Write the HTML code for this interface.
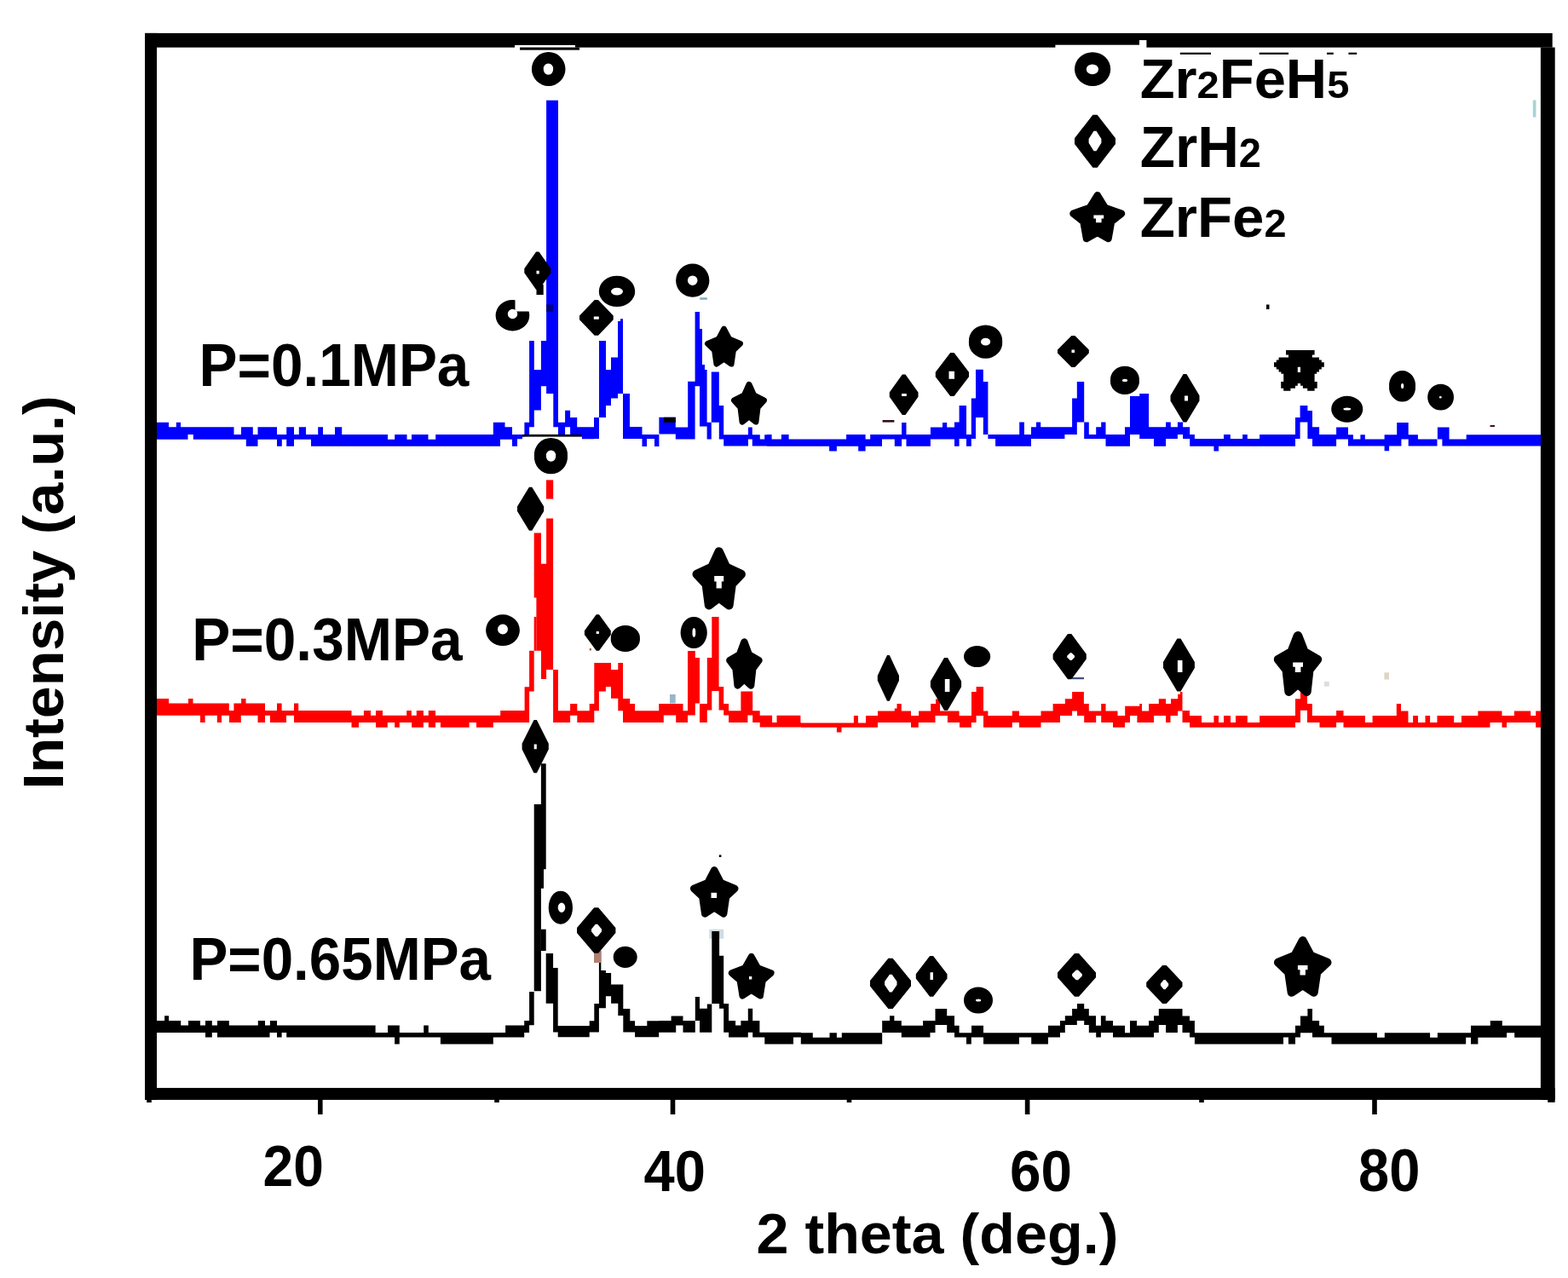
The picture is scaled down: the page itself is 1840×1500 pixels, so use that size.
<!DOCTYPE html>
<html><head><meta charset="utf-8"><title>XRD patterns</title>
<style>
html,body{margin:0;padding:0;background:#fff;}
svg{display:block;}
text{font-family:'Liberation Sans',Arial,sans-serif;font-weight:bold;fill:#000;}
</style></head>
<body>
<svg width="1840" height="1500" viewBox="0 0 1840 1500">
<rect x="170.00" y="38.90" width="1651.70" height="16.80" fill="#000"/>
<rect x="604.00" y="53.00" width="71.00" height="3.50" fill="#fff"/>
<rect x="1238.40" y="52.70" width="107.00" height="3.80" fill="#fff"/>
<rect x="1337.00" y="47.10" width="8.40" height="5.90" fill="#fff"/>
<rect x="610.00" y="55.60" width="70.00" height="3.10" fill="#000"/>
<rect x="170.00" y="38.90" width="14.00" height="1252.00" fill="#000"/>
<rect x="1807.90" y="55.60" width="16.80" height="1235.30" fill="#000"/>
<rect x="1816.20" y="1290.00" width="8.50" height="3.80" fill="#000"/>
<rect x="170.00" y="1276.90" width="1654.70" height="14.00" fill="#000"/>
<rect x="373.00" y="1290.00" width="5.60" height="18.00" fill="#000"/>
<rect x="786.70" y="1290.00" width="5.60" height="18.00" fill="#000"/>
<rect x="1202.80" y="1290.00" width="5.60" height="18.00" fill="#000"/>
<rect x="1610.20" y="1290.00" width="5.60" height="18.00" fill="#000"/>
<rect x="172.20" y="1290.00" width="5.60" height="4.00" fill="#000"/>
<rect x="580.20" y="1290.00" width="5.60" height="4.00" fill="#000"/>
<rect x="993.70" y="1290.00" width="5.60" height="4.00" fill="#000"/>
<rect x="1407.20" y="1290.00" width="5.60" height="4.00" fill="#000"/>
<path d="M184.0,495.8 L198.0,495.8 L198.0,501.2 L206.8,501.2 L206.8,495.8 L212.0,495.8 L212.0,501.2 L220.5,501.2 L226.8,501.2 L274.5,501.2 L274.5,510.0 L283.0,510.0 L283.0,501.2 L288.8,501.2 L296.8,501.2 L296.8,510.0 L302.5,510.0 L302.5,501.2 L325.0,501.2 L325.0,510.0 L330.8,510.0 L336.2,510.0 L336.2,501.2 L345.0,501.2 L345.0,510.0 L350.8,510.0 L350.8,501.2 L359.0,501.2 L359.0,510.0 L365.0,510.0 L373.2,510.0 L373.2,501.2 L379.0,501.2 L379.0,510.0 L393.0,510.0 L393.0,501.2 L401.2,501.2 L401.2,510.0 L455.0,510.0 L455.0,515.8 L463.2,515.8 L463.2,510.0 L477.5,510.0 L477.5,515.8 L483.0,515.8 L483.0,510.0 L502.5,510.0 L502.5,515.8 L511.2,515.8 L511.2,510.0 L578.8,510.0 L578.8,495.8 L587.0,495.8 L592.5,495.8 L592.5,501.2 L601.0,501.2 L601.0,509.9 L607.0,509.9 L613.0,509.9 L615.4,509.9 L615.4,495.8 L621.1,495.8 L621.1,400.0 L626.8,400.0 L626.8,434.0 L634.9,434.0 L634.9,400.0 L641.1,400.0 L641.1,117.7 L649.3,117.7 L655.0,117.7 L655.0,495.8 L663.1,495.8 L663.1,481.7 L669.1,481.7 L669.1,490.1 L677.2,490.1 L677.2,501.2 L682.9,501.2 L697.0,501.2 L697.0,490.0 L703.0,490.0 L703.0,400.0 L711.0,400.0 L711.0,434.0 L717.0,434.0 L717.0,419.5 L725.0,419.5 L725.0,377.0 L728.0,377.0 L728.0,374.2 L731.0,374.2 L731.0,462.0 L739.0,462.0 L739.0,501.0 L753.5,501.0 L753.5,510.0 L759.0,510.0 L768.0,510.0 L773.4,510.0 L773.4,489.8 L792.8,489.8 L792.8,501.4 L807.2,501.4 L807.2,447.8 L815.6,447.8 L815.6,366.0 L821.0,366.0 L821.0,386.0 L824.0,386.0 L824.0,428.0 L827.0,428.0 L827.0,434.0 L829.6,434.0 L829.6,495.8 L834.8,495.8 L834.8,436.4 L843.8,436.4 L843.8,476.0 L849.2,476.0 L849.2,510.2 L878.0,510.2 L878.0,501.4 L882.8,501.4 L882.8,510.2 L891.8,510.2 L891.8,515.4 L897.2,515.4 L897.2,510.2 L900.0,510.2 L900.0,510.0 L905.6,510.0 L905.6,515.6 L916.9,515.6 L916.9,510.0 L925.6,510.0 L925.6,515.6 L973.1,515.6 L981.9,515.6 L993.1,515.6 L993.1,510.0 L1007.2,510.0 L1015.6,510.0 L1015.6,515.6 L1021.2,515.6 L1021.2,510.0 L1035.0,510.0 L1049.8,510.0 L1058.1,510.0 L1058.1,495.9 L1063.5,495.9 L1063.5,510.0 L1091.9,510.0 L1091.9,501.5 L1106.0,501.5 L1106.0,495.9 L1111.2,495.9 L1111.2,501.5 L1120.0,501.5 L1120.0,495.6 L1125.6,495.6 L1125.6,476.0 L1134.0,476.0 L1134.0,510.0 L1139.8,510.0 L1139.8,467.5 L1145.0,467.5 L1145.0,433.8 L1153.8,433.8 L1153.8,448.0 L1159.4,448.0 L1159.4,510.0 L1168.1,510.0 L1196.2,510.0 L1196.2,495.6 L1201.9,495.6 L1201.9,510.0 L1210.0,510.0 L1210.0,501.2 L1216.0,501.2 L1216.0,495.6 L1221.2,495.6 L1221.2,501.2 L1249.4,501.2 L1258.1,501.2 L1258.1,467.5 L1263.8,467.5 L1263.8,448.0 L1272.2,448.0 L1272.2,495.6 L1277.8,495.6 L1277.8,510.0 L1286.2,510.0 L1286.2,501.2 L1292.2,501.2 L1292.2,495.6 L1297.5,495.6 L1297.5,510.0 L1320.0,510.0 L1320.0,501.2 L1326.0,501.2 L1326.0,465.0 L1337.2,465.0 L1337.2,461.9 L1348.1,461.9 L1348.1,501.2 L1354.0,501.2 L1368.1,501.2 L1368.1,495.6 L1373.8,495.6 L1373.8,501.2 L1381.9,501.2 L1381.9,495.6 L1388.1,495.6 L1388.1,501.2 L1396.2,501.2 L1396.2,510.0 L1401.9,510.0 L1401.9,515.0 L1424.4,515.0 L1430.0,515.0 L1436.0,515.0 L1436.0,510.0 L1443.8,510.0 L1443.8,515.0 L1458.1,515.0 L1458.1,510.0 L1463.8,510.0 L1463.8,515.0 L1478.1,515.0 L1478.1,510.0 L1520.0,510.0 L1520.0,490.0 L1525.6,490.0 L1525.6,476.0 L1534.4,476.0 L1534.4,481.9 L1540.0,481.9 L1540.0,501.2 L1548.1,501.2 L1548.1,510.0 L1568.1,510.0 L1568.1,501.4 L1582.0,501.4 L1582.0,510.2 L1587.9,510.2 L1587.9,515.4 L1596.4,515.4 L1596.4,510.2 L1601.8,510.2 L1601.8,515.4 L1624.6,515.4 L1624.6,510.2 L1630.1,510.2 L1639.2,510.2 L1639.2,496.0 L1644.4,496.0 L1652.7,496.0 L1652.7,510.2 L1663.9,510.2 L1663.9,515.4 L1686.5,515.4 L1686.9,515.4 L1686.9,501.4 L1692.4,501.4 L1700.6,501.4 L1700.6,515.4 L1720.7,515.4 L1720.7,510.2 L1808.0,510.2 L1808.0,523.4 L1720.7,523.4 L1700.6,523.4 L1692.4,523.4 L1692.4,515.4 L1686.9,515.4 L1686.5,515.4 L1686.5,523.4 L1663.9,523.4 L1652.7,523.4 L1652.7,515.4 L1644.4,515.4 L1644.4,523.4 L1639.2,523.4 L1630.1,523.4 L1630.1,529.3 L1624.6,529.3 L1624.6,523.4 L1601.8,523.4 L1596.4,523.4 L1587.9,523.4 L1582.0,523.4 L1582.0,515.4 L1568.1,515.4 L1568.1,523.8 L1548.1,523.8 L1540.0,523.8 L1540.0,515.0 L1534.4,515.0 L1534.4,495.6 L1525.6,495.6 L1525.6,515.0 L1520.0,515.0 L1520.0,523.8 L1478.1,523.8 L1463.8,523.8 L1458.1,523.8 L1443.8,523.8 L1436.0,523.8 L1430.0,523.8 L1430.0,529.4 L1424.4,529.4 L1424.4,523.8 L1401.9,523.8 L1396.2,523.8 L1396.2,515.0 L1388.1,515.0 L1388.1,510.0 L1381.9,510.0 L1381.9,515.0 L1373.8,515.0 L1368.1,515.0 L1368.1,523.8 L1354.0,523.8 L1354.0,515.0 L1348.1,515.0 L1337.2,515.0 L1337.2,510.0 L1326.0,510.0 L1326.0,523.8 L1320.0,523.8 L1297.5,523.8 L1297.5,515.0 L1292.2,515.0 L1286.2,515.0 L1277.8,515.0 L1272.2,515.0 L1272.2,495.6 L1263.8,495.6 L1263.8,510.0 L1258.1,510.0 L1249.4,510.0 L1249.4,515.0 L1221.2,515.0 L1216.0,515.0 L1210.0,515.0 L1210.0,523.8 L1201.9,523.8 L1196.2,523.8 L1168.1,523.8 L1168.1,515.0 L1159.4,515.0 L1159.4,510.0 L1153.8,510.0 L1153.8,490.0 L1145.0,490.0 L1145.0,515.0 L1139.8,515.0 L1139.8,523.8 L1134.0,523.8 L1134.0,515.0 L1125.6,515.0 L1125.6,523.8 L1120.0,523.8 L1120.0,515.6 L1111.2,515.6 L1106.0,515.6 L1091.9,515.6 L1091.9,523.8 L1063.5,523.8 L1063.5,515.6 L1058.1,515.6 L1058.1,523.8 L1049.8,523.8 L1049.8,515.6 L1035.0,515.6 L1035.0,523.8 L1021.2,523.8 L1015.6,523.8 L1015.6,529.4 L1007.2,529.4 L1007.2,523.8 L993.1,523.8 L981.9,523.8 L981.9,529.4 L973.1,529.4 L973.1,523.8 L925.6,523.8 L916.9,523.8 L905.6,523.8 L900.0,523.8 L900.0,523.4 L897.2,523.4 L891.8,523.4 L882.8,523.4 L882.8,515.4 L878.0,515.4 L878.0,523.4 L849.2,523.4 L849.2,515.4 L843.8,515.4 L843.8,495.8 L834.8,495.8 L834.8,515.4 L829.6,515.4 L829.6,500.6 L827.0,500.6 L824.0,500.6 L821.0,500.6 L821.0,453.2 L815.6,453.2 L815.6,515.4 L807.2,515.4 L792.8,515.4 L792.8,509.6 L773.4,509.6 L773.4,524.0 L768.0,524.0 L768.0,515.0 L759.0,515.0 L759.0,524.0 L753.5,524.0 L753.5,515.0 L739.0,515.0 L731.0,515.0 L731.0,462.0 L728.0,462.0 L725.0,462.0 L725.0,467.5 L717.0,467.5 L717.0,476.0 L711.0,476.0 L711.0,490.0 L703.0,490.0 L703.0,515.0 L697.0,515.0 L697.0,515.3 L682.9,515.3 L682.9,509.9 L677.2,509.9 L669.1,509.9 L669.1,501.2 L663.1,501.2 L663.1,509.9 L655.0,509.9 L655.0,501.2 L649.3,501.2 L649.3,461.9 L641.1,461.9 L641.1,453.2 L634.9,453.2 L634.9,481.4 L626.8,481.4 L626.8,501.2 L621.1,501.2 L621.1,509.9 L615.4,509.9 L615.4,512.6 L613.0,512.6 L613.0,515.3 L607.0,515.3 L607.0,523.7 L601.0,523.7 L601.0,515.8 L592.5,515.8 L587.0,515.8 L587.0,523.8 L578.8,523.8 L511.2,523.8 L502.5,523.8 L483.0,523.8 L477.5,523.8 L463.2,523.8 L455.0,523.8 L401.2,523.8 L393.0,523.8 L379.0,523.8 L373.2,523.8 L365.0,523.8 L365.0,515.8 L359.0,515.8 L350.8,515.8 L345.0,515.8 L345.0,523.8 L336.2,523.8 L336.2,515.8 L330.8,515.8 L330.8,523.8 L325.0,523.8 L325.0,515.8 L302.5,515.8 L302.5,523.8 L296.8,523.8 L288.8,523.8 L288.8,515.8 L283.0,515.8 L274.5,515.8 L226.8,515.8 L226.8,510.0 L220.5,510.0 L220.5,515.8 L212.0,515.8 L206.8,515.8 L198.0,515.8 L184.0,515.8 Z" fill="#0000ff"/>
<path d="M184.0,820.0 L198.1,820.0 L198.1,825.6 L221.0,825.6 L221.0,820.0 L226.5,820.0 L226.5,825.6 L235.0,825.6 L240.6,825.6 L254.8,825.6 L260.0,825.6 L268.8,825.6 L268.8,834.0 L269.0,834.0 L274.4,834.0 L274.4,825.6 L282.8,825.6 L283.1,825.6 L283.1,820.0 L288.5,820.0 L288.5,825.6 L302.5,825.6 L311.0,825.6 L311.0,834.0 L316.9,834.0 L325.0,834.0 L325.0,825.6 L330.6,825.6 L330.6,834.0 L336.0,834.0 L345.0,834.0 L345.0,825.6 L350.2,825.6 L350.2,834.0 L400.0,834.0 L412.5,834.0 L412.5,839.8 L421.0,839.8 L426.9,839.8 L426.9,834.0 L435.0,834.0 L435.0,839.8 L441.0,839.8 L441.0,834.0 L449.0,834.0 L449.0,839.8 L454.8,839.8 L463.1,839.8 L468.8,839.8 L477.2,839.8 L477.2,834.0 L482.8,834.0 L482.8,839.8 L483.1,839.8 L488.8,839.8 L488.8,834.0 L496.9,834.0 L496.9,839.8 L502.8,839.8 L502.8,834.0 L511.0,834.0 L511.0,839.8 L516.9,839.8 L550.6,839.8 L559.0,839.8 L578.8,839.8 L587.2,839.8 L587.2,834.0 L615.6,834.0 L615.6,806.2 L621.1,806.2 L621.1,763.8 L626.7,763.8 L626.7,625.4 L629.4,625.4 L635.0,625.4 L635.0,661.8 L641.1,661.8 L641.1,608.6 L649.1,608.6 L649.1,785.9 L654.9,785.9 L654.9,834.2 L669.1,834.2 L669.1,825.9 L677.3,825.9 L677.3,834.2 L691.7,834.2 L691.7,825.9 L697.3,825.9 L697.3,777.9 L702.9,777.9 L710.9,777.9 L717.0,777.9 L717.0,785.9 L725.3,785.9 L725.3,777.9 L731.0,777.9 L731.0,820.0 L739.2,820.0 L739.2,825.9 L745.1,825.9 L745.1,834.2 L773.2,834.2 L773.2,826.0 L778.8,826.0 L793.2,826.0 L801.5,826.0 L801.5,834.3 L807.0,834.3 L807.0,764.0 L815.8,764.0 L815.8,772.0 L821.0,772.0 L821.0,826.0 L829.8,826.0 L829.8,772.0 L835.3,772.0 L835.3,723.9 L843.6,723.9 L843.6,806.0 L849.2,806.0 L849.2,826.0 L855.1,826.0 L855.1,834.3 L869.4,834.3 L869.4,811.6 L877.4,811.6 L883.2,811.6 L883.2,834.3 L891.7,834.3 L891.7,839.8 L906.1,839.8 L906.1,848.0 L911.5,848.0 L911.5,839.8 L939.4,839.8 L939.4,848.0 L940.0,848.0 L940.0,848.5 L981.9,848.5 L987.5,848.5 L1001.9,848.5 L1001.9,840.0 L1006.9,840.0 L1006.9,848.5 L1016.0,848.5 L1016.0,840.0 L1030.0,840.0 L1030.0,834.4 L1049.8,834.4 L1049.8,831.5 L1052.5,831.5 L1052.5,826.0 L1057.8,826.0 L1057.8,834.4 L1069.0,834.4 L1069.0,840.0 L1077.8,840.0 L1078.1,840.0 L1078.1,834.4 L1092.2,834.4 L1092.2,826.0 L1097.5,826.0 L1098.1,826.0 L1098.1,820.6 L1103.1,820.6 L1103.1,834.4 L1111.9,834.4 L1125.6,834.4 L1125.6,840.0 L1126.0,840.0 L1139.8,840.0 L1140.0,840.0 L1140.0,811.9 L1145.6,811.9 L1145.6,806.0 L1154.0,806.0 L1154.0,834.4 L1159.4,834.4 L1159.4,840.0 L1187.8,840.0 L1187.8,834.4 L1196.0,834.4 L1196.0,840.0 L1221.5,840.0 L1221.5,834.4 L1235.6,834.4 L1235.6,826.0 L1244.0,826.0 L1249.8,826.0 L1249.8,820.2 L1258.1,820.2 L1258.1,811.9 L1264.0,811.9 L1271.9,811.9 L1271.9,826.0 L1272.2,826.0 L1277.8,826.0 L1277.8,834.4 L1286.2,834.4 L1292.2,834.4 L1292.2,826.0 L1297.5,826.0 L1297.5,834.4 L1306.0,834.4 L1311.5,834.4 L1311.5,840.0 L1320.0,840.0 L1320.2,840.0 L1320.2,828.8 L1326.0,828.8 L1334.4,828.8 L1337.2,828.8 L1337.2,826.0 L1340.0,826.0 L1340.0,834.4 L1348.1,834.4 L1348.1,826.0 L1354.0,826.0 L1359.8,826.0 L1359.8,820.2 L1368.1,820.2 L1368.1,826.0 L1373.5,826.0 L1374.0,826.0 L1374.0,820.2 L1382.2,820.2 L1382.2,814.8 L1385.0,814.8 L1385.0,811.9 L1387.5,811.9 L1387.5,834.0 L1396.0,834.0 L1396.0,840.0 L1410.0,840.0 L1410.0,848.1 L1424.4,848.1 L1424.4,840.0 L1430.0,840.0 L1430.0,848.1 L1436.0,848.1 L1436.0,840.0 L1444.0,840.0 L1444.0,848.1 L1450.0,848.1 L1450.0,840.0 L1463.8,840.0 L1463.8,848.1 L1478.1,848.1 L1478.1,840.0 L1520.0,840.0 L1520.0,820.2 L1526.0,820.2 L1526.0,811.5 L1534.0,811.5 L1534.0,826.0 L1539.8,826.0 L1539.8,840.0 L1548.5,840.0 L1568.1,840.0 L1568.1,834.0 L1576.5,834.0 L1576.5,840.0 L1601.9,840.0 L1601.9,848.1 L1610.6,848.1 L1610.6,840.0 L1638.8,840.0 L1638.8,826.0 L1644.0,826.0 L1644.0,834.4 L1652.5,834.4 L1652.5,848.1 L1658.1,848.1 L1658.1,840.0 L1664.0,840.0 L1664.0,848.1 L1672.5,848.1 L1672.5,840.0 L1678.1,840.0 L1678.1,848.1 L1686.5,848.1 L1686.5,840.0 L1706.2,840.0 L1706.2,848.1 L1715.0,848.1 L1715.0,840.0 L1734.4,840.0 L1734.4,834.4 L1748.5,834.4 L1762.5,834.4 L1762.5,840.0 L1768.1,840.0 L1776.9,840.0 L1776.9,834.4 L1796.2,834.4 L1796.2,840.0 L1802.2,840.0 L1802.2,834.4 L1808.0,834.4 L1808.0,853.8 L1802.2,853.8 L1802.2,848.1 L1796.2,848.1 L1776.9,848.1 L1768.1,848.1 L1768.1,853.8 L1762.5,853.8 L1762.5,848.1 L1748.5,848.1 L1748.5,853.8 L1734.4,853.8 L1715.0,853.8 L1706.2,853.8 L1686.5,853.8 L1678.1,853.8 L1672.5,853.8 L1664.0,853.8 L1658.1,853.8 L1652.5,853.8 L1644.0,853.8 L1638.8,853.8 L1610.6,853.8 L1601.9,853.8 L1576.5,853.8 L1576.5,848.1 L1568.1,848.1 L1568.1,853.8 L1548.5,853.8 L1548.5,848.1 L1539.8,848.1 L1534.0,848.1 L1534.0,833.8 L1526.0,833.8 L1526.0,848.1 L1520.0,848.1 L1520.0,853.8 L1478.1,853.8 L1463.8,853.8 L1450.0,853.8 L1444.0,853.8 L1436.0,853.8 L1430.0,853.8 L1424.4,853.8 L1410.0,853.8 L1396.0,853.8 L1396.0,848.1 L1387.5,848.1 L1387.5,834.4 L1385.0,834.4 L1382.2,834.4 L1382.2,840.0 L1374.0,840.0 L1373.5,840.0 L1373.5,848.1 L1368.1,848.1 L1368.1,840.0 L1359.8,840.0 L1354.0,840.0 L1354.0,848.1 L1348.1,848.1 L1340.0,848.1 L1337.2,848.1 L1334.4,848.1 L1334.4,840.0 L1326.0,840.0 L1326.0,848.1 L1320.2,848.1 L1320.0,848.1 L1320.0,853.8 L1311.5,853.8 L1306.0,853.8 L1306.0,848.1 L1297.5,848.1 L1292.2,848.1 L1292.2,840.0 L1286.2,840.0 L1286.2,848.1 L1277.8,848.1 L1272.2,848.1 L1272.2,840.0 L1271.9,840.0 L1264.0,840.0 L1264.0,834.4 L1258.1,834.4 L1258.1,840.0 L1249.8,840.0 L1244.0,840.0 L1244.0,848.1 L1235.6,848.1 L1221.5,848.1 L1221.5,853.8 L1196.0,853.8 L1196.0,848.1 L1187.8,848.1 L1187.8,853.8 L1159.4,853.8 L1154.0,853.8 L1154.0,840.0 L1145.6,840.0 L1145.6,848.1 L1140.0,848.1 L1139.8,848.1 L1139.8,853.8 L1126.0,853.8 L1126.0,848.1 L1125.6,848.1 L1111.9,848.1 L1111.9,840.0 L1103.1,840.0 L1098.1,840.0 L1097.5,840.0 L1097.5,848.1 L1092.2,848.1 L1078.1,848.1 L1077.8,848.1 L1077.8,853.8 L1069.0,853.8 L1069.0,848.1 L1057.8,848.1 L1052.5,848.1 L1049.8,848.1 L1030.0,848.1 L1030.0,853.8 L1016.0,853.8 L1006.9,853.8 L1001.9,853.8 L987.5,853.8 L987.5,859.4 L981.9,859.4 L981.9,853.8 L940.0,853.8 L940.0,853.4 L939.4,853.4 L911.5,853.4 L906.1,853.4 L891.7,853.4 L891.7,848.0 L883.2,848.0 L883.2,839.5 L877.4,839.5 L877.4,848.0 L869.4,848.0 L855.1,848.0 L855.1,839.5 L849.2,839.5 L849.2,833.6 L843.6,833.6 L843.6,810.9 L835.3,810.9 L835.3,833.6 L829.8,833.6 L829.8,848.0 L821.0,848.0 L821.0,825.5 L815.8,825.5 L815.8,839.5 L807.0,839.5 L807.0,848.0 L801.5,848.0 L793.2,848.0 L793.2,839.5 L778.8,839.5 L778.8,848.0 L773.2,848.0 L745.1,848.0 L739.2,848.0 L731.0,848.0 L731.0,834.2 L725.3,834.2 L725.3,819.7 L717.0,819.7 L717.0,806.1 L710.9,806.1 L710.9,811.5 L702.9,811.5 L702.9,834.2 L697.3,834.2 L697.3,848.0 L691.7,848.0 L677.3,848.0 L677.3,839.7 L669.1,839.7 L669.1,848.0 L654.9,848.0 L649.1,848.0 L649.1,785.9 L641.1,785.9 L641.1,797.0 L635.0,797.0 L635.0,763.8 L629.4,763.8 L629.4,701.4 L626.7,701.4 L626.7,811.5 L621.1,811.5 L621.1,848.0 L615.6,848.0 L615.6,847.9 L587.2,847.9 L578.8,847.9 L578.8,853.8 L559.0,853.8 L559.0,847.9 L550.6,847.9 L550.6,853.8 L516.9,853.8 L516.9,847.9 L511.0,847.9 L511.0,853.8 L502.8,853.8 L502.8,847.9 L496.9,847.9 L496.9,853.8 L488.8,853.8 L483.1,853.8 L483.1,847.9 L482.8,847.9 L477.2,847.9 L468.8,847.9 L468.8,853.8 L463.1,853.8 L463.1,847.9 L454.8,847.9 L454.8,853.8 L449.0,853.8 L441.0,853.8 L441.0,847.9 L435.0,847.9 L426.9,847.9 L421.0,847.9 L421.0,853.8 L412.5,853.8 L412.5,847.9 L400.0,847.9 L350.2,847.9 L345.0,847.9 L345.0,839.8 L336.0,839.8 L336.0,847.9 L330.6,847.9 L325.0,847.9 L316.9,847.9 L316.9,839.8 L311.0,839.8 L311.0,847.9 L302.5,847.9 L302.5,839.8 L288.5,839.8 L283.1,839.8 L282.8,839.8 L282.8,847.9 L274.4,847.9 L269.0,847.9 L269.0,839.8 L268.8,839.8 L260.0,839.8 L260.0,847.9 L254.8,847.9 L254.8,839.8 L240.6,839.8 L240.6,847.9 L235.0,847.9 L235.0,839.8 L226.5,839.8 L221.0,839.8 L198.1,839.8 L184.0,839.8 Z" fill="#ff0000"/>
<rect x="641.00" y="563.40" width="8.20" height="22.20" fill="#ff0000"/>
<rect x="626.70" y="724.00" width="2.80" height="39.80" fill="#ff0000"/>
<rect x="832.30" y="1090.70" width="16.90" height="11.00" fill="#cfdbe2"/>
<path d="M184.0,1198.1 L193.1,1198.1 L193.1,1192.2 L198.1,1192.2 L198.1,1198.1 L212.2,1198.1 L212.2,1203.5 L221.0,1203.5 L221.0,1198.1 L235.0,1198.1 L235.0,1203.5 L241.0,1203.5 L241.0,1198.1 L248.8,1198.1 L248.8,1203.5 L255.0,1203.5 L255.0,1198.1 L268.8,1198.1 L268.8,1203.5 L302.8,1203.5 L302.8,1198.1 L311.0,1198.1 L311.0,1203.5 L316.5,1203.5 L316.9,1203.5 L316.9,1198.1 L325.0,1198.1 L325.0,1203.5 L330.6,1203.5 L336.2,1203.5 L400.0,1203.5 L440.6,1203.5 L440.6,1211.9 L455.0,1211.9 L455.0,1203.5 L463.1,1203.5 L468.8,1203.5 L468.8,1211.9 L497.2,1211.9 L497.2,1203.5 L502.8,1203.5 L502.8,1211.9 L516.9,1211.9 L578.8,1211.9 L593.1,1211.9 L593.1,1203.5 L615.2,1203.5 L615.2,1198.1 L621.1,1198.1 L621.1,1164.0 L626.7,1164.0 L626.7,944.1 L634.9,944.1 L634.9,896.2 L638.0,896.2 L640.7,896.2 L640.7,1119.0 L649.1,1119.0 L649.1,1136.0 L654.7,1136.0 L654.7,1204.0 L691.7,1204.0 L691.7,1198.3 L697.3,1198.3 L697.3,1178.0 L702.9,1178.0 L702.9,1116.0 L705.3,1116.0 L705.3,1139.0 L710.9,1139.0 L710.9,1142.0 L717.1,1142.0 L717.1,1155.6 L725.3,1155.6 L731.3,1155.6 L731.3,1184.0 L739.3,1184.0 L739.3,1198.3 L745.1,1198.3 L745.1,1204.0 L759.3,1204.0 L759.3,1198.3 L773.2,1198.3 L773.2,1198.0 L787.6,1198.0 L787.6,1192.6 L793.2,1192.6 L801.5,1192.6 L801.5,1198.0 L815.8,1198.0 L815.8,1169.9 L821.0,1169.9 L821.0,1183.8 L829.8,1183.8 L829.8,1178.4 L835.3,1178.4 L835.3,1092.9 L844.1,1092.9 L844.1,1121.8 L849.2,1121.8 L849.2,1177.9 L855.1,1177.9 L855.1,1198.0 L863.1,1198.0 L863.1,1203.6 L869.4,1203.6 L869.4,1198.0 L877.8,1198.0 L877.8,1183.8 L883.2,1183.8 L883.2,1198.0 L891.4,1198.0 L891.4,1211.7 L897.3,1211.7 L931.0,1211.7 L939.8,1211.7 L939.8,1212.2 L953.8,1212.2 L953.8,1217.8 L973.5,1217.8 L973.5,1212.2 L981.9,1212.2 L981.9,1217.8 L987.8,1217.8 L987.8,1212.2 L1035.2,1212.2 L1035.2,1198.1 L1044.0,1198.1 L1044.0,1192.2 L1049.4,1192.2 L1049.4,1198.1 L1057.8,1198.1 L1057.8,1203.8 L1083.1,1203.8 L1083.1,1198.1 L1091.5,1198.1 L1097.5,1198.1 L1097.5,1184.0 L1111.2,1184.0 L1111.2,1192.2 L1120.0,1192.2 L1120.0,1203.8 L1125.6,1203.8 L1125.6,1212.2 L1134.0,1212.2 L1139.8,1212.2 L1140.0,1212.2 L1140.0,1203.8 L1154.0,1203.8 L1154.0,1212.2 L1159.4,1212.2 L1196.0,1212.2 L1210.2,1212.2 L1230.0,1212.2 L1230.0,1203.8 L1244.0,1203.8 L1244.0,1198.1 L1249.8,1198.1 L1249.8,1192.2 L1258.1,1192.2 L1258.1,1184.0 L1263.8,1184.0 L1264.0,1184.0 L1264.0,1178.1 L1272.2,1178.1 L1272.2,1184.0 L1277.8,1184.0 L1277.8,1192.2 L1286.0,1192.2 L1286.0,1203.8 L1286.2,1203.8 L1291.9,1203.8 L1291.9,1192.2 L1297.5,1192.2 L1297.5,1198.1 L1306.0,1198.1 L1306.0,1203.8 L1320.0,1203.8 L1320.0,1212.2 L1326.0,1212.2 L1326.0,1198.1 L1334.0,1198.1 L1334.0,1203.8 L1348.1,1203.8 L1348.1,1198.1 L1354.0,1198.1 L1354.0,1192.2 L1359.8,1192.2 L1359.8,1184.0 L1368.1,1184.0 L1381.9,1184.0 L1387.5,1184.0 L1387.5,1192.5 L1396.0,1192.5 L1396.0,1198.1 L1401.9,1198.1 L1401.9,1212.2 L1506.0,1212.2 L1511.9,1212.2 L1520.0,1212.2 L1520.0,1203.8 L1526.0,1203.8 L1526.0,1192.5 L1534.4,1192.5 L1534.4,1184.0 L1540.0,1184.0 L1540.0,1198.1 L1548.1,1198.1 L1548.1,1203.8 L1553.8,1203.8 L1553.8,1212.2 L1562.5,1212.2 L1616.0,1212.2 L1616.0,1217.8 L1624.8,1217.8 L1624.8,1212.2 L1678.1,1212.2 L1678.1,1217.8 L1686.9,1217.8 L1686.9,1212.2 L1720.2,1212.2 L1726.0,1212.2 L1726.0,1203.8 L1734.4,1203.8 L1748.8,1203.8 L1748.8,1198.1 L1762.8,1198.1 L1762.8,1203.8 L1768.1,1203.8 L1777.2,1203.8 L1808.0,1203.8 L1808.0,1217.8 L1777.2,1217.8 L1777.2,1212.2 L1768.1,1212.2 L1768.1,1217.8 L1762.8,1217.8 L1748.8,1217.8 L1734.4,1217.8 L1734.4,1225.6 L1726.0,1225.6 L1726.0,1217.8 L1720.2,1217.8 L1720.2,1225.6 L1686.9,1225.6 L1678.1,1225.6 L1624.8,1225.6 L1616.0,1225.6 L1562.5,1225.6 L1562.5,1217.5 L1553.8,1217.5 L1548.1,1217.5 L1540.0,1217.5 L1540.0,1212.2 L1534.4,1212.2 L1526.0,1212.2 L1526.0,1217.5 L1520.0,1217.5 L1520.0,1225.6 L1511.9,1225.6 L1511.9,1217.5 L1506.0,1217.5 L1506.0,1225.6 L1401.9,1225.6 L1401.9,1217.5 L1396.0,1217.5 L1396.0,1211.9 L1387.5,1211.9 L1387.5,1203.1 L1381.9,1203.1 L1381.9,1211.9 L1368.1,1211.9 L1368.1,1203.1 L1359.8,1203.1 L1359.8,1211.9 L1354.0,1211.9 L1354.0,1217.5 L1348.1,1217.5 L1334.0,1217.5 L1326.0,1217.5 L1320.0,1217.5 L1306.0,1217.5 L1306.0,1211.9 L1297.5,1211.9 L1291.9,1211.9 L1291.9,1217.5 L1286.2,1217.5 L1286.2,1211.9 L1286.0,1211.9 L1277.8,1211.9 L1277.8,1203.1 L1272.2,1203.1 L1272.2,1198.1 L1264.0,1198.1 L1263.8,1198.1 L1263.8,1203.1 L1258.1,1203.1 L1249.8,1203.1 L1249.8,1211.9 L1244.0,1211.9 L1244.0,1217.5 L1230.0,1217.5 L1230.0,1225.6 L1210.2,1225.6 L1210.2,1217.5 L1196.0,1217.5 L1196.0,1225.6 L1159.4,1225.6 L1154.0,1225.6 L1154.0,1217.5 L1140.0,1217.5 L1139.8,1217.5 L1139.8,1225.6 L1134.0,1225.6 L1134.0,1217.5 L1125.6,1217.5 L1120.0,1217.5 L1120.0,1211.9 L1111.2,1211.9 L1111.2,1203.1 L1097.5,1203.1 L1097.5,1211.9 L1091.5,1211.9 L1091.5,1217.5 L1083.1,1217.5 L1057.8,1217.5 L1057.8,1211.9 L1049.4,1211.9 L1044.0,1211.9 L1035.2,1211.9 L1035.2,1225.6 L987.8,1225.6 L981.9,1225.6 L973.5,1225.6 L953.8,1225.6 L939.8,1225.6 L939.8,1217.5 L931.0,1217.5 L931.0,1225.6 L897.3,1225.6 L897.3,1217.5 L891.4,1217.5 L883.2,1217.5 L883.2,1211.7 L877.8,1211.7 L877.8,1217.5 L869.4,1217.5 L863.1,1217.5 L855.1,1217.5 L855.1,1211.7 L849.2,1211.7 L849.2,1183.8 L844.1,1183.8 L844.1,1177.9 L835.3,1177.9 L835.3,1211.7 L829.8,1211.7 L821.0,1211.7 L821.0,1198.0 L815.8,1198.0 L815.8,1211.7 L801.5,1211.7 L801.5,1203.6 L793.2,1203.6 L793.2,1211.7 L787.6,1211.7 L773.2,1211.7 L773.2,1217.3 L759.3,1217.3 L745.1,1217.3 L745.1,1211.6 L739.3,1211.6 L731.3,1211.6 L731.3,1192.0 L725.3,1192.0 L725.3,1177.7 L717.1,1177.7 L717.1,1169.3 L710.9,1169.3 L710.9,1183.3 L705.3,1183.3 L702.9,1183.3 L702.9,1211.6 L697.3,1211.6 L691.7,1211.6 L691.7,1217.3 L654.7,1217.3 L654.7,1211.6 L649.1,1211.6 L649.1,1177.7 L640.7,1177.7 L640.7,1020.2 L638.0,1020.2 L638.0,1042.7 L634.9,1042.7 L634.9,1163.3 L626.7,1163.3 L626.7,1203.3 L621.1,1203.3 L621.1,1211.9 L615.2,1211.9 L615.2,1217.5 L593.1,1217.5 L578.8,1217.5 L578.8,1225.6 L516.9,1225.6 L516.9,1217.5 L502.8,1217.5 L497.2,1217.5 L468.8,1217.5 L468.8,1225.6 L463.1,1225.6 L463.1,1217.5 L455.0,1217.5 L440.6,1217.5 L400.0,1217.5 L336.2,1217.5 L336.2,1211.9 L330.6,1211.9 L330.6,1217.5 L325.0,1217.5 L325.0,1211.9 L316.9,1211.9 L316.5,1211.9 L316.5,1217.5 L311.0,1217.5 L302.8,1217.5 L268.8,1217.5 L255.0,1217.5 L255.0,1211.9 L248.8,1211.9 L248.8,1217.5 L241.0,1217.5 L241.0,1211.9 L235.0,1211.9 L221.0,1211.9 L212.2,1211.9 L198.1,1211.9 L193.1,1211.9 L184.0,1211.9 Z" fill="#000"/>
<rect x="634.90" y="1090.70" width="5.80" height="25.30" fill="#000"/>
<rect x="613.00" y="509.90" width="69.90" height="2.70" fill="#000"/>
<rect x="779.00" y="489.80" width="13.80" height="6.00" fill="#000"/>
<rect x="1035.60" y="493.00" width="13.80" height="2.60" fill="#301018"/>
<rect x="1748.60" y="499.00" width="5.40" height="2.00" fill="#401010"/>
<rect x="1384.80" y="61.70" width="36.20" height="2.20" fill="#000"/>
<rect x="1477.70" y="61.70" width="34.30" height="2.20" fill="#000"/>
<rect x="1557.00" y="61.70" width="7.80" height="2.20" fill="#000"/>
<rect x="1582.40" y="61.70" width="9.80" height="2.20" fill="#000"/>
<rect x="1798.80" y="117.50" width="3.70" height="20.00" fill="#a8d4d4"/>
<rect x="1486.00" y="357.50" width="3.50" height="5.50" fill="#000"/>
<rect x="843.80" y="1003.40" width="2.60" height="2.60" fill="#000"/>
<rect x="697.00" y="1116.00" width="8.30" height="14.00" fill="#b08070"/>
<rect x="821.20" y="349.20" width="8.60" height="2.60" fill="#85adc8"/>
<rect x="641.00" y="357.40" width="8.00" height="8.60" fill="#000080"/>
<rect x="1258.00" y="795.00" width="14.00" height="2.25" fill="#405080"/>
<rect x="1554.00" y="800.00" width="5.75" height="5.60" fill="#e0dcd8"/>
<rect x="1624.40" y="789.40" width="5.60" height="8.10" fill="#e0d4c4"/>
<rect x="691.70" y="761.00" width="2.20" height="2.50" fill="#a06050"/>
<rect x="786.00" y="815.00" width="6.70" height="10.50" fill="#9ab4c8"/>
<path d="M623.9,81.0 A19.8,19.9 0 1,0 663.5,81.0 A19.8,19.9 0 1,0 623.9,81.0 Z M637.8,81.1 A5.7,5.9 0 1,0 649.1,81.1 A5.7,5.9 0 1,0 637.8,81.1 Z" fill="#000" fill-rule="evenodd"/>
<path d="M581.6,370.2 A19.8,18.2 0 1,0 621.3,370.2 A19.8,18.2 0 1,0 581.6,370.2 Z M595.8,368.5 A5.7,5.7 0 1,0 607.2,368.5 A5.7,5.7 0 1,0 595.8,368.5 Z" fill="#000" fill-rule="evenodd"/>
<path d="M629.1,295.4 L632.5,295.4 L646.3,315.2 L646.3,320.2 L632.5,340.0 L629.1,340.0 L615.3,320.2 L615.3,315.2 Z M629.5,317.7 H632.7 V321.5 H629.5 Z" fill="#000" fill-rule="evenodd"/>
<path d="M697.7,352.0 L702.0,352.0 L719.7,370.6 L719.7,375.2 L702.0,393.8 L697.7,393.8 L680.0,375.2 L680.0,370.6 Z M696.8,371.5 H702.8 V374.8 H696.8 Z" fill="#000" fill-rule="evenodd"/>
<path d="M702.8,341.9 A21.2,18.2 0 1,0 745.2,341.9 A21.2,18.2 0 1,0 702.8,341.9 Z M717.0,342.1 A7.0,4.3 0 1,0 731.0,342.1 A7.0,4.3 0 1,0 717.0,342.1 Z" fill="#000" fill-rule="evenodd"/>
<path d="M793.1,329.2 A19.6,19.6 0 1,0 832.4,329.2 A19.6,19.6 0 1,0 793.1,329.2 Z M806.9,329.2 A5.8,5.8 0 1,0 818.5,329.2 A5.8,5.8 0 1,0 806.9,329.2 Z" fill="#000" fill-rule="evenodd"/>
<path d="M849.5,386.0 L855.7,397.9 L868.6,403.4 L860.5,411.2 L858.2,427.2 L849.5,421.3 L840.8,427.2 L838.5,411.2 L830.4,403.4 L843.3,397.9 Z" fill="#000" stroke="#000" stroke-width="6.720000000000001" stroke-linejoin="round"/>
<path d="M879.0,451.4 L884.6,464.0 L896.4,469.9 L889.0,478.0 L886.9,495.0 L879.0,488.8 L871.1,495.0 L869.0,478.0 L861.6,469.9 L873.4,464.0 Z" fill="#000" stroke="#000" stroke-width="7.112000000000002" stroke-linejoin="round"/>
<path d="M1058.8,439.4 L1062.5,439.4 L1077.5,460.5 L1077.5,465.8 L1062.5,486.9 L1058.8,486.9 L1043.8,465.8 L1043.8,460.5 Z M1058.1,461.9 H1063.8 V465.0 H1058.1 Z" fill="#000" fill-rule="evenodd"/>
<path d="M1115.2,414.0 L1119.6,414.0 L1137.0,436.7 L1137.0,442.2 L1119.6,464.9 L1115.2,464.9 L1097.8,442.2 L1097.8,436.7 Z M1113.5,435.7 H1120.0 V444.8 H1113.5 Z" fill="#000" fill-rule="evenodd"/>
<path d="M1136.9,401.1 A19.7,18.3 0 1,0 1176.2,401.1 A19.7,18.3 0 1,0 1136.9,401.1 Z M1151.0,401.2 A5.6,4.4 0 1,0 1162.2,401.2 A5.6,4.4 0 1,0 1151.0,401.2 Z" fill="#000" fill-rule="evenodd"/>
<path d="M1257.4,394.0 L1261.4,394.0 L1277.8,410.5 L1277.8,414.5 L1261.4,431.0 L1257.4,431.0 L1241.0,414.5 L1241.0,410.5 Z M1257.5,410.6 H1261.0 V414.0 H1257.5 Z" fill="#000" fill-rule="evenodd"/>
<path d="M1303.0,446.4 A17.0,15.4 0 1,0 1336.9,446.4 A17.0,15.4 0 1,0 1303.0,446.4 Z M1316.9,446.4 A3.1,1.7 0 1,0 1323.1,446.4 A3.1,1.7 0 1,0 1316.9,446.4 Z" fill="#000" fill-rule="evenodd"/>
<path d="M1388.6,439.0 L1392.4,439.0 L1407.5,464.2 L1407.5,470.4 L1392.4,495.6 L1388.6,495.6 L1373.5,470.4 L1373.5,464.2 Z M1390.0,464.4 H1394.0 V470.6 H1390.0 Z" fill="#000" fill-rule="evenodd"/>
<path d="M1562.2,480.2 A18.5,15.4 0 1,0 1599.3,480.2 A18.5,15.4 0 1,0 1562.2,480.2 Z M1576.4,480.1 A4.4,1.5 0 1,0 1585.2,480.1 A4.4,1.5 0 1,0 1576.4,480.1 Z" fill="#000" fill-rule="evenodd"/>
<path d="M1630.1,453.3 A15.5,16.9 0 1,0 1661.0,453.3 A15.5,16.9 0 1,0 1630.1,453.3 Z M1644.0,453.0 A1.6,3.0 0 1,0 1647.3,453.0 A1.6,3.0 0 1,0 1644.0,453.0 Z" fill="#000" fill-rule="evenodd"/>
<path d="M1675.2,466.2 A15.4,15.4 0 1,0 1706.0,466.2 A15.4,15.4 0 1,0 1675.2,466.2 Z M1688.8,466.2 A1.5,1.2 0 1,0 1691.8,466.2 A1.5,1.2 0 1,0 1688.8,466.2 Z" fill="#000" fill-rule="evenodd"/>
<path d="M626.9,535.1 A19.6,19.8 0 1,0 666.0,535.1 A19.6,19.8 0 1,0 626.9,535.1 Z M640.9,535.1 A5.7,5.8 0 1,0 652.2,535.1 A5.7,5.8 0 1,0 640.9,535.1 Z" fill="#000" fill-rule="evenodd"/>
<path d="M620.9,571.8 L624.3,571.8 L638.2,594.5 L638.2,600.1 L624.3,622.8 L620.9,622.8 L607.0,600.1 L607.0,594.5 Z" fill="#000" fill-rule="evenodd"/>
<path d="M843.7,647.3 L852.1,665.6 L869.8,674.0 L858.7,685.8 L855.5,710.4 L843.7,701.4 L831.9,710.4 L828.7,685.8 L817.6,674.0 L835.3,665.6 Z" fill="#000" stroke="#000" stroke-width="10.261999999999995" stroke-linejoin="round"/><path d="M838.2,676.0 H849.2 V682.6 H838.2 Z M840.6,682.1 H846.8 V690.6 H840.6 Z" fill="#fff"/>
<path d="M570.1,739.7 A19.9,18.4 0 1,0 609.9,739.7 A19.9,18.4 0 1,0 570.1,739.7 Z M584.0,738.4 A6.0,6.0 0 1,0 596.0,738.4 A6.0,6.0 0 1,0 584.0,738.4 Z" fill="#000" fill-rule="evenodd"/>
<path d="M699.7,721.3 L703.0,721.3 L716.8,740.2 L716.8,744.9 L703.0,763.8 L699.7,763.8 L685.9,744.9 L685.9,740.2 Z M699.7,741.0 H702.9 V744.0 H699.7 Z" fill="#000" fill-rule="evenodd"/>
<path d="M716.8,749.5 A17.1,14.3 0 1,0 750.9,749.5 A17.1,14.3 0 1,0 716.8,749.5 Z" fill="#000" fill-rule="evenodd"/>
<path d="M798.6,742.5 A15.6,18.6 0 1,0 829.8,742.5 A15.6,18.6 0 1,0 798.6,742.5 Z M812.5,742.5 A1.9,4.5 0 1,0 816.2,742.5 A1.9,4.5 0 1,0 812.5,742.5 Z" fill="#000" fill-rule="evenodd"/>
<path d="M873.4,753.5 L878.9,768.3 L890.5,775.1 L883.3,784.7 L881.2,804.5 L873.4,797.3 L865.6,804.5 L863.5,784.7 L856.3,775.1 L867.9,768.3 Z" fill="#000" stroke="#000" stroke-width="8.316000000000013" stroke-linejoin="round"/>
<path d="M1041.0,769.0 L1043.8,769.0 L1055.0,792.9 L1055.0,798.8 L1043.8,822.8 L1041.0,822.8 L1029.8,798.8 L1029.8,792.9 Z" fill="#000" fill-rule="evenodd"/>
<path d="M1108.0,771.9 L1112.0,771.9 L1128.1,799.4 L1128.1,806.2 L1112.0,833.8 L1108.0,833.8 L1091.9,806.2 L1091.9,799.4 Z M1108.8,796.9 H1114.4 V811.9 H1108.8 Z" fill="#000" fill-rule="evenodd"/>
<path d="M1131.0,770.6 A15.6,12.5 0 1,0 1162.2,770.6 A15.6,12.5 0 1,0 1131.0,770.6 Z" fill="#000" fill-rule="evenodd"/>
<path d="M1253.0,744.0 L1257.3,744.0 L1274.8,767.7 L1274.8,773.6 L1257.3,797.2 L1253.0,797.2 L1235.6,773.6 L1235.6,767.7 Z M1255.8,766.2 L1257.5,766.2 L1261.0,769.8 L1261.0,771.5 L1257.5,775.0 L1255.8,775.0 L1252.2,771.5 L1252.2,769.8 Z" fill="#000" fill-rule="evenodd"/>
<path d="M1381.4,749.4 L1385.5,749.4 L1401.9,777.0 L1401.9,783.9 L1385.5,811.5 L1381.4,811.5 L1365.0,783.9 L1365.0,777.0 Z M1381.9,775.0 H1387.5 V789.0 H1381.9 Z" fill="#000" fill-rule="evenodd"/>
<path d="M1523.0,746.3 L1530.4,765.2 L1545.9,774.0 L1536.2,786.2 L1533.4,811.6 L1523.0,802.3 L1512.6,811.6 L1509.8,786.2 L1500.1,774.0 L1515.6,765.2 Z" fill="#000" stroke="#000" stroke-width="10.625999999999998" stroke-linejoin="round"/><path d="M1517.2,777.5 H1529.0 V782.7 H1517.2 Z M1519.8,782.2 H1526.4 V789.0 H1519.8 Z" fill="#fff"/>
<path d="M626.5,845.1 L629.9,845.1 L643.8,872.7 L643.8,879.6 L629.9,907.2 L626.5,907.2 L612.6,879.6 L612.6,872.7 Z M626.7,873.6 H629.8 V879.2 H626.7 Z" fill="#000" fill-rule="evenodd"/>
<path d="M643.7,1065.2 A14.1,19.5 0 1,0 672.0,1065.2 A14.1,19.5 0 1,0 643.7,1065.2 Z M654.7,1065.3 A4.3,5.7 0 1,0 663.3,1065.3 A4.3,5.7 0 1,0 654.7,1065.3 Z" fill="#000" fill-rule="evenodd"/>
<path d="M697.2,1065.3 L702.2,1065.3 L722.4,1089.1 L722.4,1094.9 L702.2,1118.7 L697.2,1118.7 L677.0,1094.9 L677.0,1089.1 Z M698.8,1084.7 L701.2,1084.7 L706.0,1090.5 L706.0,1093.5 L701.2,1099.3 L698.8,1099.3 L694.0,1093.5 L694.0,1090.5 Z" fill="#000" fill-rule="evenodd"/>
<path d="M719.7,1123.3 A14.0,12.6 0 1,0 747.7,1123.3 A14.0,12.6 0 1,0 719.7,1123.3 Z" fill="#000" fill-rule="evenodd"/>
<path d="M838.2,1021.2 L846.0,1036.1 L862.3,1042.9 L852.1,1052.5 L849.2,1072.5 L838.2,1065.2 L827.2,1072.5 L824.3,1052.5 L814.1,1042.9 L830.4,1036.1 Z" fill="#000" stroke="#000" stroke-width="8.358000000000008" stroke-linejoin="round"/><rect x="834.5" y="1047.8" width="6.6" height="6.2" fill="#fff"/>
<path d="M881.7,1122.6 L889.2,1135.9 L904.8,1142.1 L895.0,1150.8 L892.2,1168.7 L881.7,1162.1 L871.2,1168.7 L868.4,1150.8 L858.6,1142.1 L874.2,1135.9 Z" fill="#000" stroke="#000" stroke-width="7.518000000000007" stroke-linejoin="round"/><rect x="879.0" y="1146.0" width="3.3" height="3.5" fill="#fff"/>
<path d="M1042.4,1124.8 L1047.6,1124.8 L1069.0,1151.1 L1069.0,1157.6 L1047.6,1184.0 L1042.4,1184.0 L1021.0,1157.6 L1021.0,1151.1 Z M1043.9,1143.8 L1046.7,1143.8 L1052.5,1152.0 L1052.5,1156.1 L1046.7,1164.4 L1043.9,1164.4 L1038.1,1156.1 L1038.1,1152.0 Z" fill="#000" fill-rule="evenodd"/>
<path d="M1091.1,1121.9 L1095.1,1121.9 L1111.5,1143.2 L1111.5,1148.5 L1095.1,1169.8 L1091.1,1169.8 L1074.8,1148.5 L1074.8,1143.2 Z M1091.5,1141.2 H1095.0 V1150.0 H1091.5 Z" fill="#000" fill-rule="evenodd"/>
<path d="M1131.0,1174.0 A17.0,15.5 0 1,0 1165.0,1174.0 A17.0,15.5 0 1,0 1131.0,1174.0 Z M1145.0,1174.0 A3.1,1.5 0 1,0 1151.2,1174.0 A3.1,1.5 0 1,0 1145.0,1174.0 Z" fill="#000" fill-rule="evenodd"/>
<path d="M1261.0,1119.0 L1266.0,1119.0 L1286.0,1141.6 L1286.0,1147.2 L1266.0,1169.8 L1261.0,1169.8 L1241.0,1147.2 L1241.0,1141.6 Z M1262.8,1138.5 L1265.1,1138.5 L1269.8,1143.2 L1269.8,1145.5 L1265.1,1150.2 L1262.8,1150.2 L1258.1,1145.5 L1258.1,1143.2 Z" fill="#000" fill-rule="evenodd"/>
<path d="M1364.1,1133.1 L1368.7,1133.1 L1387.5,1153.1 L1387.5,1158.1 L1368.7,1178.1 L1364.1,1178.1 L1345.2,1158.1 L1345.2,1153.1 Z M1365.6,1150.0 L1367.5,1150.0 L1371.2,1154.5 L1371.2,1156.8 L1367.5,1161.2 L1365.6,1161.2 L1361.9,1156.8 L1361.9,1154.5 Z" fill="#000" fill-rule="evenodd"/>
<path d="M1528.7,1104.0 L1538.0,1121.6 L1557.5,1129.7 L1545.3,1141.1 L1541.8,1164.8 L1528.7,1156.2 L1515.6,1164.8 L1512.1,1141.1 L1499.9,1129.7 L1519.4,1121.6 Z" fill="#000" stroke="#000" stroke-width="9.911999999999994" stroke-linejoin="round"/><path d="M1522.9,1132.9 H1534.5 V1138.2 H1522.9 Z M1525.5,1137.7 H1531.9 V1144.6 H1525.5 Z" fill="#fff"/>
<path d="M1261.0,81.1 A21.1,19.8 0 1,0 1303.2,81.1 A21.1,19.8 0 1,0 1261.0,81.1 Z M1274.8,81.3 A7.1,5.9 0 1,0 1289.0,81.3 A7.1,5.9 0 1,0 1274.8,81.3 Z" fill="#000" fill-rule="evenodd"/>
<path d="M1282.4,134.7 L1287.6,134.7 L1309.0,162.3 L1309.0,169.1 L1287.6,196.7 L1282.4,196.7 L1261.0,169.1 L1261.0,162.3 Z M1283.5,153.7 L1286.5,153.7 L1292.4,163.1 L1292.4,167.8 L1286.5,177.2 L1283.5,177.2 L1277.6,167.8 L1277.6,163.1 Z" fill="#000" fill-rule="evenodd"/>
<path d="M1287.8,229.1 L1296.9,243.9 L1316.1,250.7 L1304.1,260.2 L1300.6,280.1 L1287.8,272.8 L1274.9,280.1 L1271.4,260.2 L1259.4,250.7 L1278.6,243.9 Z" fill="#000" stroke="#000" stroke-width="8.287999999999998" stroke-linejoin="round"/><path d="M1283.4,252.5 H1295.2 V256.5 H1283.4 Z M1286.0,256.0 H1292.6 V261.3 H1286.0 Z" fill="#fff"/>
<rect x="604.5" y="349" width="18" height="16.5" fill="#fff"/>
<rect x="629.5" y="334" width="8.2" height="12" fill="#000"/>
<path d="M1509.0,411.0 L1542.6,411.0 L1542.6,416.6 L1539.8,416.6 L1539.8,419.6 L1548.0,419.6 L1548.0,422.4 L1550.8,422.4 L1550.8,425.2 L1553.8,425.2 L1553.8,430.8 L1550.8,430.8 L1550.8,433.6 L1548.0,433.6 L1548.0,436.4 L1545.2,436.4 L1545.2,438.7 L1542.6,438.7 L1542.6,448.1 L1545.7,448.1 L1545.7,455.8 L1542.6,455.8 L1542.6,458.8 L1534.2,458.8 L1534.2,455.8 L1528.9,455.8 L1528.9,452.7 L1526.1,452.7 L1526.1,449.9 L1522.8,449.9 L1522.8,452.7 L1520.0,452.7 L1520.0,455.8 L1514.4,455.8 L1514.4,458.8 L1506.2,458.8 L1506.2,455.8 L1503.2,455.8 L1503.2,448.1 L1506.2,448.1 L1506.2,438.7 L1503.4,438.7 L1503.4,436.4 L1500.6,436.4 L1500.6,433.6 L1497.8,433.6 L1497.8,430.8 L1495.0,430.8 L1495.0,425.2 L1497.8,425.2 L1497.8,422.4 L1500.6,422.4 L1500.6,419.6 L1512.0,419.6 L1512.0,416.6 L1509.0,416.6 Z M1522.8,430.8 H1526.0 V436.9 H1522.8 Z" fill="#000" fill-rule="evenodd"/>
<text transform="translate(308.59,1392.30) scale(0.9571,1.0348)" font-size="67">20</text>
<text transform="translate(755.53,1397.80) scale(0.9718,1.0348)" font-size="67">40</text>
<text transform="translate(1185.04,1397.80) scale(0.9786,1.0348)" font-size="67">60</text>
<text transform="translate(1594.06,1397.90) scale(0.9714,1.0391)" font-size="67">80</text>
<text transform="translate(887.46,1471.30) scale(1.0195,1.0000)" font-size="67">2 theta (deg.)</text>
<text transform="translate(233.57,453.30) scale(1.0068,1.0413)" font-size="67">P=0.1MPa</text>
<text transform="translate(225.27,775.00) scale(1.0087,1.0543)" font-size="67">P=0.3MPa</text>
<text transform="translate(222.48,1150.00) scale(1.0046,1.0500)" font-size="67">P=0.65MPa</text>
<text transform="translate(1337.71,114.60) scale(1.0457,1.0000)" font-size="64">Zr<tspan font-size="45">2</tspan>FeH<tspan font-size="45">5</tspan></text>
<text transform="translate(1337.76,196.30) scale(1.0215,1.0326)" font-size="66">ZrH<tspan font-size="46">2</tspan></text>
<text transform="translate(1337.76,278.00) scale(1.0194,1.0217)" font-size="66">ZrFe<tspan font-size="46">2</tspan></text>
<text transform="translate(73.90,926.57) rotate(-90) scale(1.0337,0.9958)" font-size="66">Intensity (a.u.)</text>
</svg>
</body></html>
